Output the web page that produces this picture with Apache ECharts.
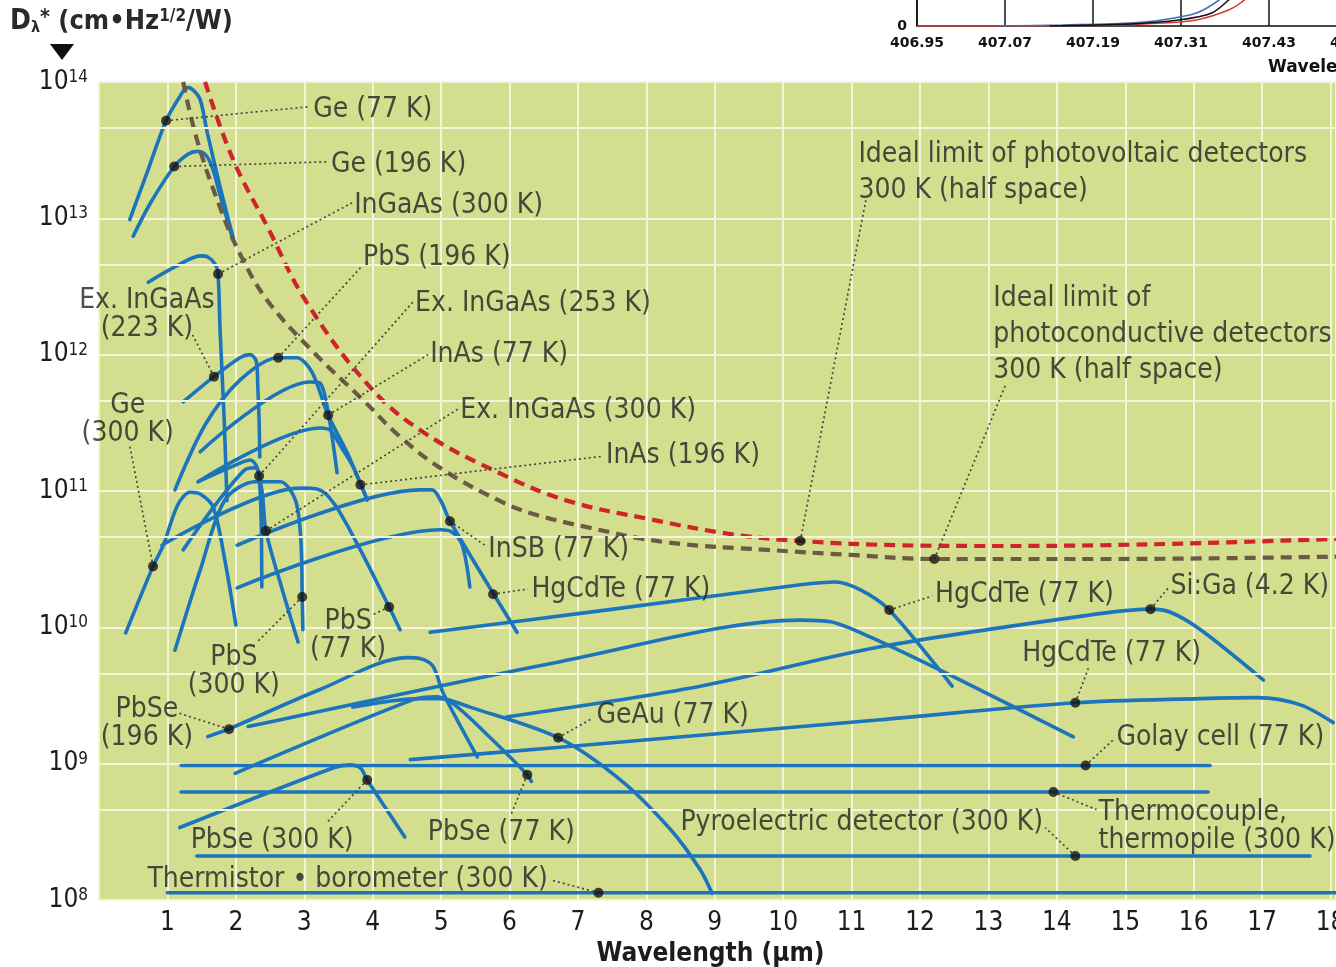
<!DOCTYPE html>
<html>
<head>
<meta charset="utf-8">
<script src="https://cdn.jsdelivr.net/npm/echarts@6/dist/echarts.min.js"></script>
<style>
html,body{margin:0;padding:0;background:#fff;}
#chart{width:1336px;height:967px;}
</style>
</head>
<body>
<div id="chart"></div>
<script>
// ---- Spectral detectivity D*(λ) of infrared detectors: [wavelength µm, D* cm·Hz^1/2/W] ----
const ge77K = [[0.45,9.8e12],[0.70,2.15e13],[0.98,5.2e13],[1.18,7.8e13],[1.29,9.1e13],[1.37,8.8e13],[1.48,7.4e13],[1.58,4.3e13],[1.77,1.7e13],[1.96,7.2e12]];
const ge196K = [[0.50,7.4e12],[0.75,1.29e13],[1.10,2.4e13],[1.30,2.95e13],[1.43,3.1e13],[1.55,2.95e13],[1.65,2.4e13],[1.77,1.48e13],[1.96,6.9e12]];
const inGaAs300K = [[0.72,3.4e12],[1.11,4.4e12],[1.48,5.3e12],[1.59,5.2e12],[1.70,4.6e12],[1.74,3.9e12],[1.77,1.5e12],[1.83,3.3e11],[1.87,8.5e10]];
const exInGaAs223K = [[1.23,4.5e11],[1.68,6.9e11],[2.06,9.5e11],[2.21,1.0e12],[2.30,8.9e11],[2.32,6.0e11],[2.34,3.3e11],[2.35,1.78e11]];
const pbS196K = [[1.11,1.02e11],[1.55,3.05e11],[2.06,6.5e11],[2.62,9.5e11],[2.89,9.5e11],[3.11,7.5e11],[3.35,3.6e11],[3.63,1.9e11],[3.92,8.6e10]];
const inAs77K = [[1.48,1.94e11],[3.08,6.3e11],[3.23,6.2e11],[3.35,3.74e11],[3.48,1.36e11]];
const inAs196K = [[1.45,1.17e11],[3.23,2.9e11],[3.38,2.8e11],[3.52,2.18e11],[3.70,1.55e11],[3.92,8.6e10]];
const exInGaAs253K = [[1.45,1.17e11],[2.06,1.6e11],[2.21,1.69e11],[2.30,1.53e11],[2.34,1.29e11],[2.37,6.1e10],[2.38,1.98e10]];
const exInGaAs300K = [[1.23,3.7e10],[1.70,7.9e10],[2.13,1.43e11],[2.28,1.48e11],[2.38,1.02e11],[2.44,5.1e10],[2.68,1.88e10],[2.91,7.8e9]];
const pbS300K = [[1.11,6.8e9],[1.48,2.64e10],[1.84,8.6e10],[2.28,1.17e11],[2.65,1.17e11],[2.87,8.6e10],[2.95,4.4e10],[2.97,1.67e10],[2.98,9.6e9]];
const pbS77K = [[0.92,4.0e10],[2.94,1.05e11],[3.20,1.03e11],[3.45,7.9e10],[3.82,3.7e10],[4.24,1.41e10],[4.40,9.6e9]];
const ge300K = [[0.39,9.1e9],[0.79,2.8e10],[0.94,4.0e10],[1.15,7.9e10],[1.33,9.8e10],[1.48,9.5e10],[1.67,7.6e10],[1.84,3.1e10],[2.00,1.04e10]];
const inSb77K = [[2.02,4.0e10],[4.69,1.02e11],[4.87,1.02e11],[5.01,8.2e10],[5.13,6.0e10],[6.11,9.2e9]];
const inSb196K = [[2.02,1.95e10],[4.99,5.2e10],[5.16,5.0e10],[5.31,4.0e10],[5.42,1.98e10]];
const hgCdTe12um = [[4.84,9.2e9],[7.32,1.32e10],[10.25,2.05e10],[10.76,2.15e10],[11.13,1.88e10],[11.55,1.34e10],[12.47,3.7e9]];
const hgCdTe14um = [[2.18,1.87e9],[6.74,5.6e9],[10.25,1.13e10],[10.69,1.1e10],[11.27,8.5e9],[12.59,4.1e9],[14.24,1.57e9]];
const hgCdTe18um = [[4.55,1.07e9],[6.74,1.32e9],[11.42,2.1e9],[14.27,2.8e9],[16.10,3.0e9],[16.93,3.05e9],[17.56,2.7e9],[18.04,2.0e9]];
const siGa4K = [[5.95,2.2e9],[8.79,3.7e9],[11.42,7.2e9],[14.63,1.26e10],[15.37,1.36e10],[15.66,1.29e10],[16.10,9.6e9],[17.02,4.1e9]];
const geAu77K = [[3.71,2.6e9],[4.69,3.0e9],[4.99,3.0e9],[5.42,2.6e9],[6.71,1.55e9],[7.62,7.6e8],[8.35,3.3e8],[8.79,1.66e8],[8.96,1.12e8]];
const pbSe196K = [[1.59,1.58e9],[1.89,1.79e9],[3.23,3.5e9],[4.50,6.0e9],[4.69,5.9e9],[4.88,5.2e9],[5.03,3.3e9],[5.53,1.12e9]];
const pbSe77K = [[1.99,8.5e8],[4.59,2.95e9],[4.94,3.1e9],[5.20,2.7e9],[5.72,1.55e9],[6.26,8.3e8],[6.32,7.4e8]];
const pbSe300K = [[1.18,3.4e8],[3.42,9.3e8],[3.67,9.8e8],[3.82,9.3e8],[3.92,7.6e8],[4.47,2.9e8]];
const golayCell = [[1.20,9.7e8],[16.24,9.7e8]];
const thermopile = [[1.20,6.2e8],[16.21,6.2e8]];
const pyroelectric = [[1.43,2.1e8],[17.70,2.1e8]];
const thermistor = [[1.00,1.13e8],[18.08,1.13e8]];

// Ideal background-limited curves (300 K, half space)
const pvLimit = [[1.55,1.0e14],[1.96,2.7e13],[2.46,8.7e12],[3.04,2.4e12],[3.96,5.8e11],[4.74,2.7e11],[5.86,1.35e11],[6.84,8.5e10],[8.06,6.2e10],[9.27,4.8e10],[10.25,4.3e10],[11.71,4.0e10],[13.17,3.95e10],[14.63,4.0e10],[16.10,4.15e10],[18.08,4.45e10]];
const pcLimit = [[1.23,1.0e14],[1.43,3.8e13],[1.77,1.2e13],[2.06,5.5e12],[2.46,2.5e12],[3.13,1.05e12],[3.86,4.65e11],[4.40,2.5e11],[5.03,1.43e11],[5.86,8.45e10],[6.30,6.9e10],[7.08,5.5e10],[8.30,4.2e10],[9.77,3.7e10],[10.98,3.4e10],[12.22,3.17e10],[14.63,3.17e10],[18.08,3.3e10]];

// Callouts: marker on the curve, end of the dotted leader, text anchor
const notes = [
  {text:'Ge (77 K)', dot:[0.98,5.2e13], end:[3.08,6.6e13], at:[3.13,6.6e13], align:'left'},
  {text:'Ge (196 K)', dot:[1.10,2.4e13], end:[3.35,2.6e13], at:[3.39,2.6e13], align:'left'},
  {text:'InGaAs (300 K)', dot:[1.74,3.9e12], end:[3.70,1.3e13], at:[3.73,1.3e13], align:'left'},
  {text:'PbS (196 K)', dot:[2.62,9.5e11], end:[3.85,4.5e12], at:[3.86,5.4e12], align:'left'},
  {text:'Ex. InGaAs (253 K)', dot:[2.34,1.29e11], end:[4.59,2.44e12], at:[4.62,2.5e12], align:'left'},
  {text:'InAs (77 K)', dot:[3.35,3.6e11], end:[4.81,1.0e12], at:[4.84,1.05e12], align:'left'},
  {text:'Ex. InGaAs (300 K)', dot:[2.44,5.1e10], end:[5.25,4.0e11], at:[5.28,4.1e11], align:'left'},
  {text:'InAs (196 K)', dot:[3.82,1.11e11], end:[7.37,1.8e11], at:[7.41,1.9e11], align:'left'},
  {text:'InSB (77 K)', dot:[5.13,6.0e10], end:[5.64,4.0e10], at:[5.69,3.9e10], align:'left'},
  {text:'HgCdTe (77 K)', dot:[5.76,1.75e10], end:[6.27,1.91e10], at:[6.32,1.98e10], align:'left'},
  {text:'HgCdTe (77 K)', dot:[11.55,1.34e10], end:[12.18,1.7e10], at:[12.22,1.82e10], align:'left'},
  {text:'Si:Ga (4.2 K)', dot:[15.37,1.36e10], end:[15.63,1.95e10], at:[15.66,2.08e10], align:'left'},
  {text:'HgCdTe (77 K)', dot:[14.27,2.8e9], end:[14.46,5.0e9], at:[14.80,6.7e9], align:'center'},
  {text:'Golay cell (77 K)', dot:[14.42,9.7e8], end:[14.82,1.49e9], at:[14.87,1.63e9], align:'left'},
  {text:'Thermocouple,\nthermopile (300 K)', dot:[13.95,6.2e8], end:[14.58,4.6e8], at:[14.61,3.6e8], align:'left'},
  {text:'Pyroelectric detector (300 K)', dot:[14.27,2.1e8], end:[13.83,3.4e8], at:[13.80,3.9e8], align:'right'},
  {text:'Thermistor • borometer (300 K)', dot:[7.30,1.13e8], end:[6.61,1.40e8], at:[6.56,1.48e8], align:'right'},
  {text:'PbSe (77 K)', dot:[6.26,8.3e8], end:[6.01,4.1e8], at:[5.88,3.3e8], align:'center'},
  {text:'PbSe (300 K)', dot:[3.92,7.6e8], end:[3.33,3.7e8], at:[2.53,2.85e8], align:'center'},
  {text:'PbSe\n(196 K)', dot:[1.90,1.79e9], end:[1.15,2.36e9], at:[0.70,2.06e9], align:'center'},
  {text:'PbS\n(300 K)', dot:[2.97,1.67e10], end:[2.30,7.7e9], at:[1.97,5.0e9], align:'center'},
  {text:'PbS\n(77 K)', dot:[4.24,1.41e10], end:[3.99,1.23e10], at:[3.64,9.2e9], align:'center'},
  {text:'GeAu (77 K)', dot:[6.71,1.55e9], end:[7.22,2.16e9], at:[7.27,2.36e9], align:'left'},
  {text:'Ideal limit of photovoltaic detectors\n300 K (half space)', dot:[10.25,4.3e10], end:[11.21,1.37e13], at:[11.10,2.27e13], align:'left'},
  {text:'Ideal limit of\nphotoconductive detectors\n300 K (half space)', dot:[12.21,3.17e10], end:[13.25,6.0e11], at:[13.07,1.47e12], align:'left'},
  {text:'Ex. InGaAs\n(223 K)', dot:[1.68,6.9e11], end:[1.36,1.42e12], at:[0.70,2.06e12], align:'center'},
  {text:'Ge\n(300 K)', dot:[0.79,2.8e10], end:[0.45,2.14e11], at:[0.42,3.5e11], align:'center'}
];

// Intermediate horizontal grid lines inside each decade
const minorGrid = [4.6e8, 4.6e9, 4.6e10, 4.6e11, 4.6e12, 4.6e13];

// Small spectral plot in the upper right corner (wavelength nm, counts)
const insetRed = [[406.95,0],[407.199,2.5],[407.284,15],[407.331,30],[407.375,80],[407.393,120],[407.409,180]];
const insetBlue = [[407.063,0],[407.148,5],[407.239,15],[407.284,30],[407.331,65],[407.362,130],[407.375,180]];
const insetBlack = [[407.131,0],[407.239,10],[407.307,30],[407.352,65],[407.375,130],[407.389,180]];

const FONT = "'DejaVu Sans Condensed','Liberation Sans Narrow','Noto Sans',sans-serif";
const BLUE = '#1c74bd';
const TEXT = '#222222';

const blueCurves = [ge77K, ge196K, inGaAs300K, exInGaAs223K, pbS196K, inAs77K, inAs196K, exInGaAs253K, exInGaAs300K,
  pbS300K, pbS77K, ge300K, inSb77K, inSb196K, hgCdTe12um, hgCdTe14um, hgCdTe18um, siGa4K, geAu77K,
  pbSe196K, pbSe77K, pbSe300K, golayCell, thermopile, pyroelectric, thermistor];

const series = [];

// grid lines at the intermediate levels
series.push({
  type:'line', xAxisIndex:0, yAxisIndex:0, data:[], z:1, silent:true,
  markLine:{silent:true, symbol:['none','none'], label:{show:false}, animation:false,
    lineStyle:{color:'#f2f5d9', width:2, type:'solid'},
    data: minorGrid.map(v => ({yAxis:v}))}
});

blueCurves.forEach(d => series.push({
  type:'line', data:d, smooth:0.3, symbol:'none', z:3, silent:true,
  lineStyle:{color:BLUE, width:3.6, cap:'round', join:'round'}
}));

series.push({type:'line', data:pcLimit, smooth:0.4, symbol:'none', z:4, silent:true,
  lineStyle:{color:'#6d5a45', width:4.2, type:[11,7]}});
series.push({type:'line', data:pvLimit, smooth:0.4, symbol:'none', z:4, silent:true,
  lineStyle:{color:'#d0232b', width:4.2, type:[11,7]}});

notes.forEach(n => series.push({
  type:'line', data:[n.dot, n.end], symbol:'none', z:5, silent:true,
  lineStyle:{color:'#454545', width:1.7, type:[2,3]}
}));

series.push({type:'scatter', data:notes.map(n => n.dot), symbol:'circle', symbolSize:10, z:6, silent:true,
  itemStyle:{color:'#141414'}});

series.push({
  type:'scatter', z:7, silent:true, symbolSize:1, itemStyle:{color:'rgba(0,0,0,0)'},
  data: notes.map(n => ({value:n.at, label:{align:n.align, lineHeight: n.text.indexOf('Ideal') === 0 ? 36 : 28}})),
  label:{show:true, position:'inside', verticalAlign:'middle', offset:[0,3], color:TEXT, fontFamily:FONT, fontSize:28,
    formatter: p => notes[p.dataIndex].text}
});

// inset traces
[[insetRed,'#d8372b'],[insetBlue,'#3f6fb5'],[insetBlack,'#111111']].forEach(([d,c]) => series.push({
  type:'line', xAxisIndex:1, yAxisIndex:1, data:d, smooth:0.3, symbol:'none', z:3, silent:true,
  lineStyle:{color:c, width:1.6}
}));

const chart = echarts.init(document.getElementById('chart'), null, {renderer:'canvas'});
chart.setOption({
  animation:false,
  backgroundColor:'#ffffff',
  grid:[
    {left:99, right:0, top:82, bottom:67, show:true, backgroundColor:'#d3df8f', borderWidth:0, outerBoundsMode:'none'},
    {left:917, right:-21, top:-174, bottom:941, show:false, outerBoundsMode:'none'}
  ],
  xAxis:[
    {type:'value', gridIndex:0, min:0, max:18.08, interval:1,
     axisLine:{show:false}, axisTick:{show:false},
     splitLine:{show:true, lineStyle:{color:'#f2f5d9', width:2}},
     axisLabel:{show:true, margin:10, color:'#1c1c1c', fontFamily:FONT, fontSize:26, hideOverlap:false,
       formatter: v => (Number.isInteger(v) && v > 0) ? String(v) : ''},
     name:'Wavelength (µm)', nameLocation:'middle', nameGap:38,
     nameTextStyle:{fontFamily:FONT, fontSize:26, fontWeight:'bold', color:'#1c1c1c', verticalAlign:'top', padding:[0,14,0,0]}
    },
    {type:'value', gridIndex:1, min:406.95, max:407.55, interval:0.12,
     axisLine:{show:true, lineStyle:{color:'#111', width:1.5}}, axisTick:{show:false},
     splitLine:{show:true, lineStyle:{color:'#111', width:1.5}},
     axisLabel:{show:true, margin:10, color:'#111', fontFamily:'DejaVu Sans', fontWeight:'bold', fontSize:14,
       formatter: v => v.toFixed(2)}
    }
  ],
  yAxis:[
    {type:'log', gridIndex:0, logBase:10, min:1e8, max:1e14, splitNumber:6,
     axisLine:{show:false}, axisTick:{show:false},
     splitLine:{show:true, lineStyle:{color:'#f2f5d9', width:2}},
     axisLabel:{show:true, margin:11,
       formatter: v => '{b|10}{s|' + Math.round(Math.log10(v)) + '}',
       rich:{b:{fontFamily:FONT, fontSize:26, color:'#1c1c1c'},
             s:{fontFamily:FONT, fontSize:17, color:'#1c1c1c', verticalAlign:'top'}}}
    },
    {type:'value', gridIndex:1, min:0, max:1000, interval:200,
     axisLine:{show:true, lineStyle:{color:'#111', width:1.5}}, axisTick:{show:false},
     splitLine:{show:false},
     axisLabel:{show:true, margin:10, color:'#111', fontFamily:'DejaVu Sans', fontWeight:'bold', fontSize:14}
    }
  ],
  graphic:[
    {type:'text', left:10, top:8, z:10, style:{
      text:'{d|D}{l|λ}{a|*}{t| (cm•Hz}{h|1/2}{t|/W)}',
      rich:{
        d:{fontFamily:FONT, fontSize:28, fontWeight:'bold', fill:'#2a2a2a'},
        l:{fontFamily:FONT, fontSize:16, fontWeight:'bold', fill:'#2a2a2a', verticalAlign:'bottom'},
        a:{fontFamily:FONT, fontSize:21, fontWeight:'bold', fill:'#2a2a2a', verticalAlign:'top'},
        t:{fontFamily:FONT, fontSize:27, fontWeight:'bold', fill:'#2a2a2a'},
        h:{fontFamily:FONT, fontSize:17, fontWeight:'bold', fill:'#2a2a2a', verticalAlign:'top'}
      }}},
    {type:'polygon', z:10, shape:{points:[[50,44],[74,44],[62,60]]}, style:{fill:'#111'}},
    {type:'text', left:1268, top:59, z:10, style:{text:'Wavelength (nm)', fontFamily:'DejaVu Sans', fontWeight:'bold', fontSize:17, fill:'#111'}}
  ],
  series: series
});
</script>
</body>
</html>
